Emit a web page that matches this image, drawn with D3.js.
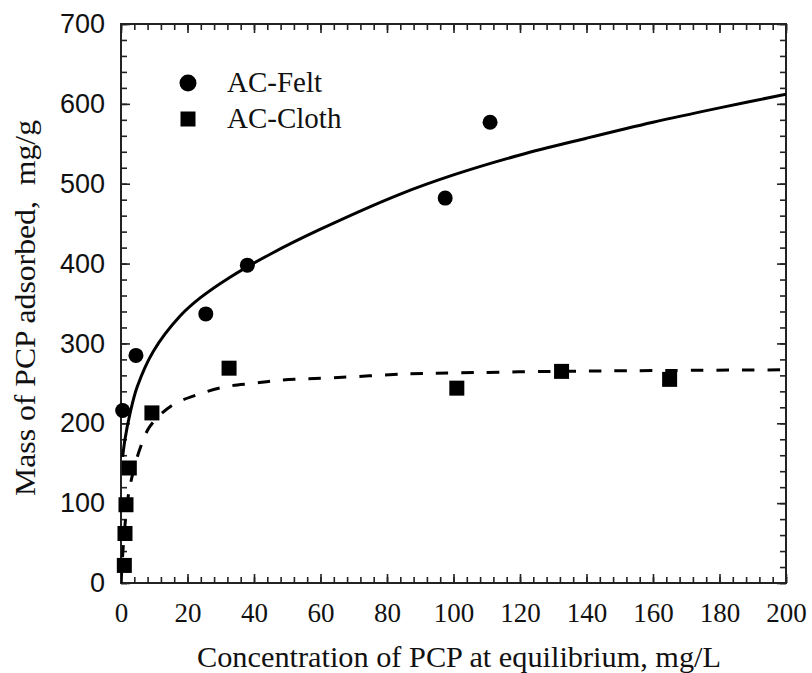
<!DOCTYPE html>
<html>
<head>
<meta charset="utf-8">
<script src="https://cdn.jsdelivr.net/npm/d3@7"></script>
<style>
  html, body { margin: 0; padding: 0; background: #fff; }
  svg { display: block; }
</style>
</head>
<body>
<svg id="chart" width="812" height="673"></svg>
<script>
// ---- Data ----
const feltC = [0.5, 4.5, 25.5, 38, 97.5, 111];
const feltQ = [216, 285, 337, 398, 482, 577];

const clothC = [1, 1.2, 1.5, 2.5, 9.3, 32.5, 101, 132.5, 165];
const clothQ = [22, 62, 98, 144, 213, 269, 244, 265, 255];

// fitted curves
const feltFitC = [0.5, 1.2, 2.7, 4.9, 9.7, 17.7, 23.8, 32.8, 45, 60, 84, 100, 120, 140, 160, 180, 200];
const feltFitQ = [158, 180, 212, 246, 290, 334, 357, 383, 412, 443, 487, 511, 536, 557, 577, 595, 612];

const clothFitC = [0, 0.5, 1, 2, 3.2, 5.7, 8.7, 15.2, 23.8, 31.8, 39.8, 47.8, 64, 87, 100, 130, 160, 200];
const clothFitQ = [0, 35, 63, 104, 131, 168, 196, 222, 237, 246, 250, 254, 257, 262, 263, 265, 266, 267];

const xMajor = [0, 20, 40, 60, 80, 100, 120, 140, 160, 180, 200];
const yMajor = [0, 100, 200, 300, 400, 500, 600, 700];
const xMinor = d3.range(0, 201, 4);
const yMinor = d3.range(0, 701, 20);

const legendNames = ["AC-Felt", "AC-Cloth"];
const xTitle = "Concentration of PCP at equilibrium, mg/L";
const yTitle = "Mass of PCP adsorbed,\u00A0 mg/g";

// ---- Layout ----
const svg = d3.select("#chart");
const L = 121, R = 786, T = 24, B = 583;
const x = d3.scaleLinear().domain([0, 200]).range([L, R]);
const y = d3.scaleLinear().domain([0, 700]).range([B, T]);

const serif = "'Liberation Serif', 'Times New Roman', Times, serif";
const sans = "'Liberation Sans', Arial, Helvetica, sans-serif";
const ink = "#000";

function styleAxis(g, font, size) {
  g.select(".domain").remove();
  g.attr("font-family", font).attr("font-size", size);
  g.selectAll(".tick line").attr("stroke", "#222").attr("stroke-width", 1.6);
  g.selectAll(".tick text").attr("fill", "#111");
}

// minor ticks (all four sides)
const minorLen = 6, majorLen = 9;
svg.append("g").attr("transform", `translate(0,${B})`)
  .call(d3.axisBottom(x).tickValues(xMinor).tickSize(-minorLen).tickFormat(""))
  .call(g => styleAxis(g, serif, 27));
svg.append("g").attr("transform", `translate(0,${T})`)
  .call(d3.axisTop(x).tickValues(xMinor).tickSize(-minorLen).tickFormat(""))
  .call(g => styleAxis(g, serif, 27));
svg.append("g").attr("transform", `translate(${L},0)`)
  .call(d3.axisLeft(y).tickValues(yMinor).tickSize(-minorLen).tickFormat(""))
  .call(g => styleAxis(g, sans, 27));
svg.append("g").attr("transform", `translate(${R},0)`)
  .call(d3.axisRight(y).tickValues(yMinor).tickSize(-minorLen).tickFormat(""))
  .call(g => styleAxis(g, sans, 27));

// major ticks with labels
svg.append("g").attr("transform", `translate(0,${B})`)
  .call(d3.axisBottom(x).tickValues(xMajor).tickSize(-majorLen).tickPadding(20).tickFormat(d3.format("d")))
  .call(g => styleAxis(g, serif, 27));
svg.append("g").attr("transform", `translate(0,${T})`)
  .call(d3.axisTop(x).tickValues(xMajor).tickSize(-majorLen).tickFormat(""))
  .call(g => styleAxis(g, serif, 27));
svg.append("g").attr("transform", `translate(${L},0)`)
  .call(d3.axisLeft(y).tickValues(yMajor).tickSize(-majorLen).tickPadding(16).tickFormat(d3.format("d")))
  .call(g => styleAxis(g, sans, 27));
svg.append("g").attr("transform", `translate(${R},0)`)
  .call(d3.axisRight(y).tickValues(yMajor).tickSize(-majorLen).tickFormat(""))
  .call(g => styleAxis(g, sans, 27));

// frame
svg.append("rect")
  .attr("x", L).attr("y", T).attr("width", R - L).attr("height", B - T)
  .attr("fill", "none").attr("stroke", "#222").attr("stroke-width", 2);

// clip for curves
svg.append("clipPath").attr("id", "plotclip")
  .append("rect").attr("x", L).attr("y", T).attr("width", R - L).attr("height", B - T);

const line = d3.line().x(d => x(d[0])).y(d => y(d[1])).curve(d3.curveCatmullRom.alpha(0.5));

svg.append("path")
  .datum(d3.zip(feltFitC, feltFitQ))
  .attr("d", line)
  .attr("clip-path", "url(#plotclip)")
  .attr("fill", "none").attr("stroke", ink).attr("stroke-width", 3);

svg.append("path")
  .datum(d3.zip(clothFitC, clothFitQ))
  .attr("d", line)
  .attr("clip-path", "url(#plotclip)")
  .attr("fill", "none").attr("stroke", ink).attr("stroke-width", 3)
  .attr("stroke-dasharray", "12.5,13");

// data markers
svg.append("g").selectAll("circle")
  .data(d3.zip(feltC, feltQ))
  .join("circle")
  .attr("cx", d => x(d[0])).attr("cy", d => y(d[1])).attr("r", 7.5)
  .attr("fill", ink);

const sq = 15;
svg.append("g").selectAll("rect")
  .data(d3.zip(clothC, clothQ))
  .join("rect")
  .attr("x", d => x(d[0]) - sq / 2).attr("y", d => y(d[1]) - sq / 2)
  .attr("width", sq).attr("height", sq)
  .attr("fill", ink);

// legend
const leg = svg.append("g");
leg.append("circle").attr("cx", 188).attr("cy", 83).attr("r", 8.5).attr("fill", ink);
leg.append("rect").attr("x", 188 - 7.5).attr("y", 119 - 7.5).attr("width", 15).attr("height", 15).attr("fill", ink);
leg.selectAll("text")
  .data(legendNames)
  .join("text")
  .attr("x", 227)
  .attr("y", (d, i) => 92 + i * 36)
  .attr("font-family", serif).attr("font-size", 29).attr("fill", "#111")
  .text(d => d);

// axis titles
svg.append("text")
  .attr("x", 459).attr("y", 667)
  .attr("text-anchor", "middle")
  .attr("font-family", serif).attr("font-size", 29).attr("fill", "#111")
  .attr("textLength", 524).attr("lengthAdjust", "spacingAndGlyphs")
  .text(xTitle);

svg.append("text")
  .attr("transform", `translate(35,308) rotate(-90)`)
  .attr("text-anchor", "middle")
  .attr("font-family", serif).attr("font-size", 29).attr("fill", "#111")
  .attr("textLength", 376).attr("lengthAdjust", "spacingAndGlyphs")
  .text(yTitle);
</script>
</body>
</html>
